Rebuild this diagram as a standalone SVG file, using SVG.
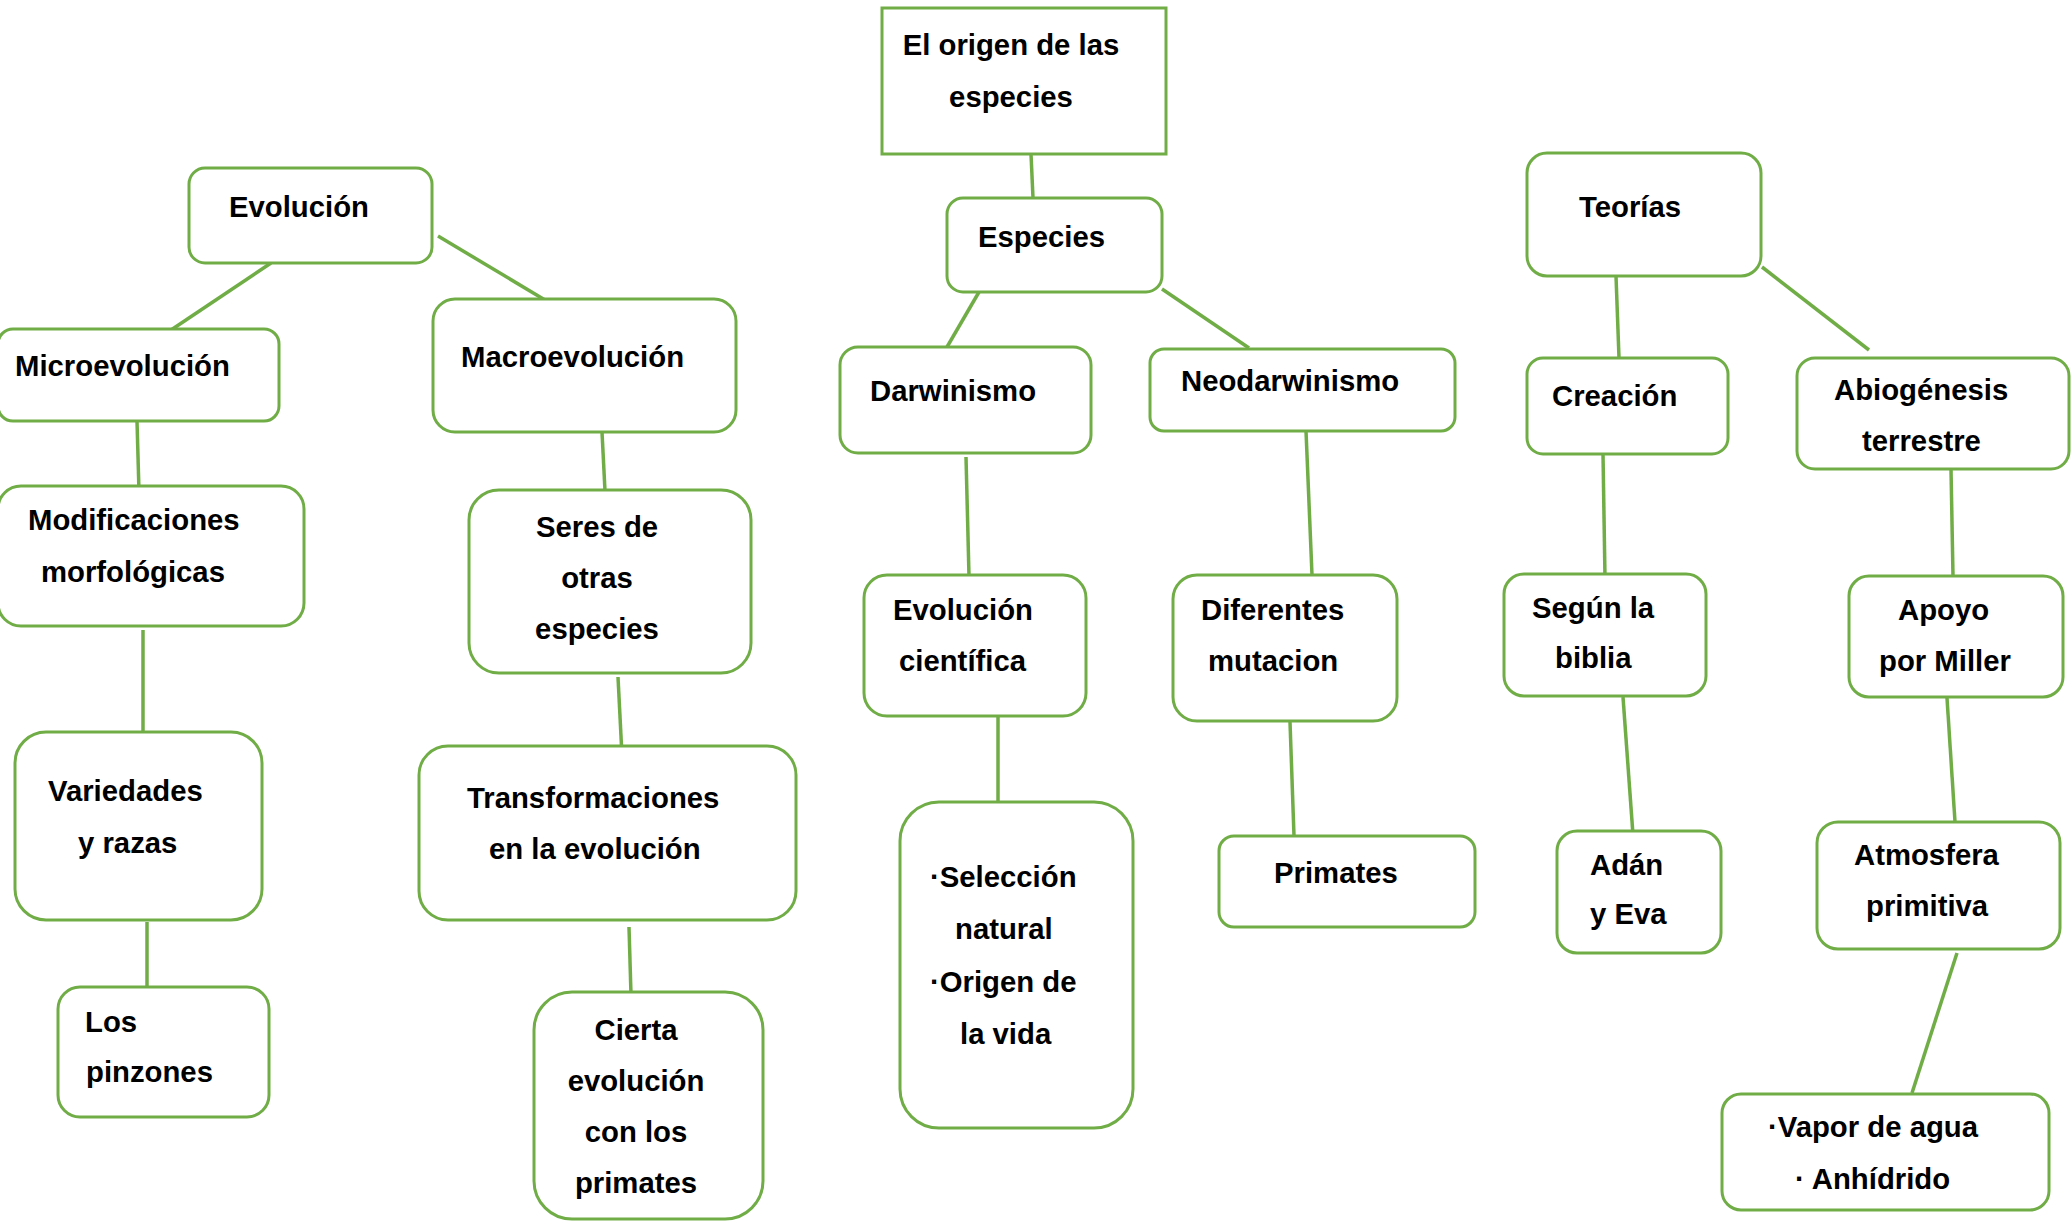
<svg xmlns="http://www.w3.org/2000/svg" width="2072" height="1224" viewBox="0 0 2072 1224">
<style>
.n{fill:#fff;stroke:#70AD47;stroke-width:3}
.c line{stroke:#70AD47;stroke-width:3.5}
text{font-family:"Liberation Sans",Arial,sans-serif;font-weight:bold;font-size:29.3px;fill:#000}
</style>
<rect width="2072" height="1224" fill="#fff"/>
<g class="c" id="connectors">
<line x1="1031" y1="154" x2="1033" y2="198"/>
<line x1="271" y1="263" x2="171" y2="330"/>
<line x1="438" y1="236" x2="545" y2="300"/>
<line x1="137" y1="421" x2="139" y2="492"/>
<line x1="602" y1="432" x2="605" y2="491"/>
<line x1="979" y1="292" x2="947" y2="347"/>
<line x1="966" y1="457" x2="969" y2="576"/>
<line x1="1162" y1="289" x2="1249" y2="348"/>
<line x1="1616" y1="276" x2="1619" y2="358"/>
<line x1="1762" y1="267" x2="1869" y2="350"/>
<line x1="1306" y1="431" x2="1312" y2="575"/>
<line x1="1603" y1="454" x2="1605" y2="578"/>
<line x1="1951" y1="469" x2="1953" y2="576"/>
<line x1="143" y1="630" x2="143" y2="733"/>
<line x1="618" y1="677" x2="622" y2="756"/>
<line x1="147" y1="922" x2="147" y2="995"/>
<line x1="629" y1="927" x2="631" y2="995"/>
<line x1="998" y1="713" x2="998" y2="802"/>
<line x1="1290" y1="722" x2="1294" y2="836"/>
<line x1="1623" y1="697" x2="1633" y2="835"/>
<line x1="1947" y1="698" x2="1955" y2="822"/>
<line x1="1957" y1="953" x2="1912" y2="1093"/>
</g>
<g id="origen"><rect class="n" x="882" y="8" width="284" height="146"/><text x="1011" y="55" text-anchor="middle">El origen de las</text><text x="1011" y="107" text-anchor="middle">especies</text></g>
<g id="evolucion"><rect class="n" x="189" y="168" width="243" height="95" rx="16"/><text x="229" y="217">Evolución</text></g>
<g id="micro"><rect class="n" x="-2" y="329" width="281" height="92" rx="15"/><text x="15" y="376">Microevolución</text></g>
<g id="macro"><rect class="n" x="433" y="299" width="303" height="133" rx="22"/><text x="461" y="367">Macroevolución</text></g>
<g id="especies"><rect class="n" x="947" y="198" width="215" height="94" rx="16"/><text x="978" y="247">Especies</text></g>
<g id="darwinismo"><rect class="n" x="840" y="347" width="251" height="106" rx="18"/><text x="870" y="401">Darwinismo</text></g>
<g id="neodarwinismo"><rect class="n" x="1150" y="349" width="305" height="82" rx="14"/><text x="1181" y="391">Neodarwinismo</text></g>
<g id="teorias"><rect class="n" x="1527" y="153" width="234" height="123" rx="20"/><text x="1579" y="217">Teorías</text></g>
<g id="creacion"><rect class="n" x="1527" y="358" width="201" height="96" rx="16"/><text x="1552" y="406">Creación</text></g>
<g id="abiogenesis"><rect class="n" x="1797" y="358" width="272" height="111" rx="18"/><text x="1834" y="400">Abiogénesis</text><text x="1862" y="451">terrestre</text></g>
<g id="modificaciones"><rect class="n" x="-2" y="486" width="306" height="140" rx="23"/><text x="28" y="530">Modificaciones</text><text x="41" y="582">morfológicas</text></g>
<g id="seres"><rect class="n" x="469" y="490" width="282" height="183" rx="30"/><text x="597" y="537" text-anchor="middle">Seres de</text><text x="597" y="588" text-anchor="middle">otras</text><text x="597" y="639" text-anchor="middle">especies</text></g>
<g id="evcientifica"><rect class="n" x="864" y="575" width="222" height="141" rx="23"/><text x="893" y="620">Evolución</text><text x="899" y="671">científica</text></g>
<g id="diferentes"><rect class="n" x="1173" y="575" width="224" height="146" rx="24"/><text x="1201" y="620">Diferentes</text><text x="1208" y="671">mutacion</text></g>
<g id="segun"><rect class="n" x="1504" y="574" width="202" height="122" rx="20"/><text x="1532" y="618">Según la</text><text x="1555" y="668">biblia</text></g>
<g id="apoyo"><rect class="n" x="1849" y="576" width="214" height="121" rx="20"/><text x="1898" y="620">Apoyo</text><text x="1879" y="671">por Miller</text></g>
<g id="variedades"><rect class="n" x="15" y="732" width="247" height="188" rx="31"/><text x="48" y="801">Variedades</text><text x="78" y="853">y razas</text></g>
<g id="transformaciones"><rect class="n" x="419" y="746" width="377" height="174" rx="29"/><text x="467" y="808">Transformaciones</text><text x="489" y="859">en la evolución</text></g>
<g id="seleccion"><rect class="n" x="900" y="802" width="233" height="326" rx="39"/><text x="930" y="887">·Selección</text><text x="955" y="939">natural</text><text x="930" y="992">·Origen de</text><text x="960" y="1044">la vida</text></g>
<g id="primates"><rect class="n" x="1219" y="836" width="256" height="91" rx="15"/><text x="1274" y="883">Primates</text></g>
<g id="adan"><rect class="n" x="1557" y="831" width="164" height="122" rx="20"/><text x="1590" y="875">Adán</text><text x="1590" y="924">y Eva</text></g>
<g id="atmosfera"><rect class="n" x="1817" y="822" width="243" height="127" rx="21"/><text x="1854" y="865">Atmosfera</text><text x="1866" y="916">primitiva</text></g>
<g id="los"><rect class="n" x="58" y="987" width="211" height="130" rx="22"/><text x="85" y="1032">Los</text><text x="86" y="1082">pinzones</text></g>
<g id="cierta"><rect class="n" x="534" y="992" width="229" height="227" rx="38"/><text x="636" y="1040" text-anchor="middle">Cierta</text><text x="636" y="1091" text-anchor="middle">evolución</text><text x="636" y="1142" text-anchor="middle">con los</text><text x="636" y="1193" text-anchor="middle">primates</text></g>
<g id="vapor"><rect class="n" x="1722" y="1094" width="327" height="116" rx="19"/><text x="1768" y="1137">·Vapor de agua</text><text x="1795" y="1189">· Anhídrido</text></g>
</svg>
